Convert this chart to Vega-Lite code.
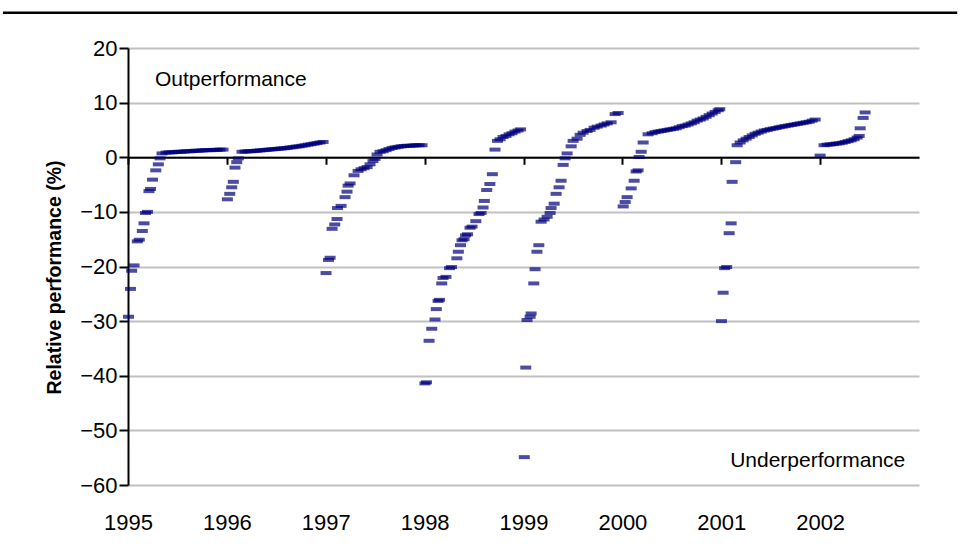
{
  "$schema": "https://vega.github.io/schema/vega-lite/v6.json",
  "width": 791,
  "height": 437,
  "autosize": {"type": "none"},
  "padding": {"left": 128, "top": 48, "right": 42, "bottom": 75},
  "background": "white",
  "config": {
    "view": {"stroke": null},
    "font": "Liberation Sans",
    "axis": {"labelColor": "black", "titleColor": "black", "labelFont": "Liberation Sans", "titleFont": "Liberation Sans"}
  },
  "datasets": {
    "pts": [
      {"t":1995.005,"v":-29.2},{"t":1995.025,"v":-24.1},{"t":1995.037,"v":-20.8},{"t":1995.061,"v":-19.8},{"t":1995.094,"v":-15.4},{"t":1995.114,"v":-15.1},{"t":1995.145,"v":-13.5},{"t":1995.162,"v":-12.1},{"t":1995.177,"v":-10.2},{"t":1995.197,"v":-10.0},{"t":1995.212,"v":-6.2},{"t":1995.228,"v":-5.8},{"t":1995.248,"v":-4.1},{"t":1995.281,"v":-2.4},{"t":1995.307,"v":-1.3},{"t":1995.324,"v":-0.2},{"t":1995.344,"v":0.7},
      {"t":1995.384,"v":0.85},{"t":1995.415,"v":0.9},{"t":1995.445,"v":0.9},{"t":1995.475,"v":0.95},{"t":1995.506,"v":1.0},{"t":1995.536,"v":1.0},{"t":1995.567,"v":1.05},{"t":1995.597,"v":1.1},{"t":1995.627,"v":1.1},{"t":1995.658,"v":1.15},{"t":1995.688,"v":1.2},{"t":1995.718,"v":1.2},{"t":1995.749,"v":1.25},{"t":1995.779,"v":1.3},{"t":1995.809,"v":1.3},{"t":1995.840,"v":1.3},{"t":1995.870,"v":1.35},{"t":1995.900,"v":1.35},{"t":1995.931,"v":1.4},{"t":1995.961,"v":1.4},
      {"t":1996.005,"v":-7.7},{"t":1996.029,"v":-6.7},{"t":1996.049,"v":-5.5},{"t":1996.065,"v":-4.5},{"t":1996.082,"v":-1.9},{"t":1996.100,"v":-0.9},{"t":1996.116,"v":-0.2},{"t":1996.153,"v":1.0},{"t":1996.184,"v":1.05},{"t":1996.214,"v":1.1},{"t":1996.244,"v":1.1},{"t":1996.275,"v":1.15},{"t":1996.305,"v":1.2},{"t":1996.335,"v":1.25},{"t":1996.366,"v":1.3},{"t":1996.396,"v":1.35},{"t":1996.426,"v":1.4},{"t":1996.457,"v":1.45},{"t":1996.487,"v":1.5},{"t":1996.517,"v":1.55},{"t":1996.548,"v":1.6},{"t":1996.578,"v":1.65},{"t":1996.609,"v":1.7},{"t":1996.639,"v":1.8},{"t":1996.669,"v":1.85},{"t":1996.700,"v":1.95},{"t":1996.730,"v":2.0},{"t":1996.760,"v":2.1},{"t":1996.791,"v":2.2},{"t":1996.821,"v":2.3},{"t":1996.851,"v":2.4},{"t":1996.882,"v":2.5},{"t":1996.912,"v":2.6},{"t":1996.942,"v":2.7},{"t":1996.973,"v":2.8},
      {"t":1997.003,"v":-21.2},{"t":1997.028,"v":-18.8},{"t":1997.044,"v":-18.4},{"t":1997.064,"v":-13.1},{"t":1997.091,"v":-12.3},{"t":1997.114,"v":-11.3},{"t":1997.119,"v":-9.3},{"t":1997.155,"v":-8.9},{"t":1997.195,"v":-7.3},{"t":1997.215,"v":-6.3},{"t":1997.226,"v":-5.2},{"t":1997.246,"v":-4.8},{"t":1997.286,"v":-3.3},{"t":1997.327,"v":-2.5},{"t":1997.357,"v":-2.2},{"t":1997.387,"v":-2.0},{"t":1997.418,"v":-1.8},{"t":1997.448,"v":-1.3},{"t":1997.478,"v":-0.7},{"t":1997.499,"v":-0.3},{"t":1997.519,"v":0.5},{"t":1997.549,"v":1.0},{"t":1997.580,"v":1.1},{"t":1997.610,"v":1.3},{"t":1997.640,"v":1.5},{"t":1997.671,"v":1.7},{"t":1997.701,"v":1.8},{"t":1997.731,"v":1.9},{"t":1997.762,"v":2.0},{"t":1997.792,"v":2.05},{"t":1997.822,"v":2.1},{"t":1997.853,"v":2.1},{"t":1997.883,"v":2.15},{"t":1997.913,"v":2.2},{"t":1997.944,"v":2.2},{"t":1997.974,"v":2.2},
      {"t":1998.003,"v":-41.4},{"t":1998.019,"v":-41.2},{"t":1998.045,"v":-33.6},{"t":1998.072,"v":-31.4},{"t":1998.105,"v":-29.7},{"t":1998.118,"v":-27.8},{"t":1998.136,"v":-26.3},{"t":1998.151,"v":-26.1},{"t":1998.173,"v":-23.1},{"t":1998.186,"v":-22.1},{"t":1998.216,"v":-21.9},{"t":1998.252,"v":-20.3},{"t":1998.272,"v":-20.1},{"t":1998.326,"v":-18.5},{"t":1998.341,"v":-17.3},{"t":1998.363,"v":-16.1},{"t":1998.378,"v":-15.2},{"t":1998.399,"v":-15.0},{"t":1998.414,"v":-14.3},{"t":1998.434,"v":-14.1},{"t":1998.459,"v":-12.9},{"t":1998.480,"v":-12.7},{"t":1998.518,"v":-11.7},{"t":1998.550,"v":-10.4},{"t":1998.571,"v":-10.2},{"t":1998.591,"v":-9.2},{"t":1998.604,"v":-8.0},{"t":1998.628,"v":-6.0},{"t":1998.660,"v":-4.9},{"t":1998.685,"v":-3.1},{"t":1998.712,"v":1.4},{"t":1998.737,"v":3.0},{"t":1998.763,"v":3.3},{"t":1998.793,"v":3.7},{"t":1998.823,"v":3.9},{"t":1998.854,"v":4.2},{"t":1998.884,"v":4.4},{"t":1998.914,"v":4.7},{"t":1998.945,"v":4.9},{"t":1998.970,"v":5.1},
      {"t":1999.008,"v":-54.9},{"t":1999.023,"v":-38.5},{"t":1999.036,"v":-29.8},{"t":1999.067,"v":-29.2},{"t":1999.077,"v":-28.6},{"t":1999.104,"v":-23.1},{"t":1999.117,"v":-20.5},{"t":1999.136,"v":-17.3},{"t":1999.155,"v":-16.1},{"t":1999.178,"v":-11.8},{"t":1999.208,"v":-11.4},{"t":1999.239,"v":-10.9},{"t":1999.269,"v":-10.2},{"t":1999.279,"v":-9.3},{"t":1999.310,"v":-8.5},{"t":1999.330,"v":-6.7},{"t":1999.360,"v":-5.5},{"t":1999.380,"v":-4.3},{"t":1999.401,"v":-1.4},{"t":1999.421,"v":-0.2},{"t":1999.441,"v":0.7},{"t":1999.482,"v":2.0},{"t":1999.502,"v":3.0},{"t":1999.542,"v":3.4},{"t":1999.573,"v":4.1},{"t":1999.603,"v":4.5},{"t":1999.643,"v":4.8},{"t":1999.674,"v":5.0},{"t":1999.714,"v":5.4},{"t":1999.745,"v":5.6},{"t":1999.785,"v":5.8},{"t":1999.815,"v":6.0},{"t":1999.846,"v":6.2},{"t":1999.886,"v":6.4},{"t":1999.927,"v":7.9},{"t":1999.957,"v":8.1},
      {"t":2000.008,"v":-9.0},{"t":2000.028,"v":-8.2},{"t":2000.048,"v":-7.3},{"t":2000.089,"v":-5.7},{"t":2000.119,"v":-4.3},{"t":2000.139,"v":-2.6},{"t":2000.159,"v":-2.4},{"t":2000.169,"v":0.05},{"t":2000.190,"v":1.0},{"t":2000.210,"v":2.7},{"t":2000.260,"v":4.2},{"t":2000.301,"v":4.4},{"t":2000.331,"v":4.6},{"t":2000.362,"v":4.7},{"t":2000.392,"v":4.8},{"t":2000.422,"v":4.9},{"t":2000.453,"v":5.0},{"t":2000.483,"v":5.1},{"t":2000.514,"v":5.2},{"t":2000.544,"v":5.3},{"t":2000.574,"v":5.5},{"t":2000.605,"v":5.7},{"t":2000.635,"v":5.8},{"t":2000.665,"v":6.0},{"t":2000.696,"v":6.2},{"t":2000.726,"v":6.4},{"t":2000.756,"v":6.7},{"t":2000.787,"v":6.9},{"t":2000.817,"v":7.1},{"t":2000.847,"v":7.4},{"t":2000.878,"v":7.7},{"t":2000.908,"v":8.0},{"t":2000.938,"v":8.3},{"t":2000.969,"v":8.6},{"t":2000.985,"v":8.8},
      {"t":2001.002,"v":-30.0},{"t":2001.019,"v":-24.8},{"t":2001.034,"v":-20.3},{"t":2001.055,"v":-20.1},{"t":2001.080,"v":-13.9},{"t":2001.100,"v":-12.1},{"t":2001.110,"v":-4.5},{"t":2001.146,"v":-0.9},{"t":2001.161,"v":2.2},{"t":2001.191,"v":2.7},{"t":2001.222,"v":3.1},{"t":2001.252,"v":3.4},{"t":2001.282,"v":3.7},{"t":2001.313,"v":4.0},{"t":2001.343,"v":4.3},{"t":2001.373,"v":4.5},{"t":2001.404,"v":4.7},{"t":2001.434,"v":4.9},{"t":2001.464,"v":5.0},{"t":2001.495,"v":5.15},{"t":2001.525,"v":5.25},{"t":2001.555,"v":5.35},{"t":2001.586,"v":5.5},{"t":2001.616,"v":5.6},{"t":2001.646,"v":5.7},{"t":2001.677,"v":5.8},{"t":2001.707,"v":5.9},{"t":2001.737,"v":6.0},{"t":2001.768,"v":6.1},{"t":2001.798,"v":6.2},{"t":2001.828,"v":6.3},{"t":2001.859,"v":6.4},{"t":2001.889,"v":6.5},{"t":2001.919,"v":6.7},{"t":2001.950,"v":6.9},
      {"t":2002.000,"v":0.3},{"t":2002.040,"v":2.2},{"t":2002.071,"v":2.3},{"t":2002.101,"v":2.35},{"t":2002.132,"v":2.4},{"t":2002.162,"v":2.5},{"t":2002.192,"v":2.55},{"t":2002.223,"v":2.65},{"t":2002.253,"v":2.8},{"t":2002.283,"v":2.95},{"t":2002.314,"v":3.1},{"t":2002.344,"v":3.3},{"t":2002.374,"v":3.6},{"t":2002.395,"v":3.9},{"t":2002.405,"v":5.3},{"t":2002.435,"v":7.2},{"t":2002.455,"v":8.2}
    ],
    "frame": [{"t": 1993.7355, "t2": 2003.3865, "v": 26.46}],
    "notes": [
      {"t": 1995.273, "v": 14.23, "label": "Outperformance"},
      {"t": 2002.861, "v": -55.61, "label": "Underperformance"}
    ]
  },
  "resolve": {"axis": {"x": "independent"}},
  "layer": [
    {
      "data": {"name": "pts"},
      "mark": {"type": "tick", "orient": "horizontal", "size": 11, "thickness": 4, "color": "#00007c"},
      "encoding": {
        "x": {
          "field": "t", "type": "quantitative",
          "scale": {"domain": [1995, 2003], "nice": false, "zero": false},
          "axis": {"orient": "bottom", "values": [1995, 1996, 1997, 1998, 1999, 2000, 2001, 2002], "format": "d", "domain": false, "ticks": false, "grid": false, "labelFontSize": 22, "labelPadding": 27, "labelFlush": false, "labelOverlap": false, "title": null}
        },
        "y": {
          "field": "v", "type": "quantitative",
          "scale": {"domain": [-60, 20], "nice": false, "zero": false},
          "axis": {"values": [-60, -50, -40, -30, -20, -10, 0, 10, 20], "format": "d", "grid": true, "gridColor": "#c0c0c0", "gridWidth": 2, "domainColor": "black", "domainWidth": 2, "tickColor": "black", "tickWidth": 2, "tickSize": 9, "labelPadding": 2, "labelFontSize": 22, "labelFlush": false, "labelOverlap": false, "title": "Relative performance (%)", "titleFontSize": 19.5, "titleFontWeight": "bold", "titlePadding": 15, "titleY": 229}
        }
      }
    },
    {
      "data": {"name": "frame"},
      "mark": {"type": "rule", "color": "black", "strokeWidth": 2.5, "clip": false},
      "encoding": {
        "x": {
          "field": "t", "type": "quantitative",
          "axis": {"orient": "bottom", "offset": -327.75, "values": [1995, 1996, 1997, 1998, 1999, 2000, 2001, 2002], "labels": false, "grid": false, "domainColor": "black", "domainWidth": 2, "tickColor": "black", "tickWidth": 2, "tickSize": 7, "title": null}
        },
        "x2": {"field": "t2"},
        "y": {"field": "v", "type": "quantitative"}
      }
    },
    {
      "data": {"name": "notes"},
      "transform": [{"filter": "datum.label == 'Outperformance'"}],
      "mark": {"type": "text", "align": "left", "baseline": "middle", "fontSize": 21, "font": "Liberation Sans", "color": "black"},
      "encoding": {
        "x": {"field": "t", "type": "quantitative", "axis": null},
        "y": {"field": "v", "type": "quantitative"},
        "text": {"field": "label"}
      }
    },
    {
      "data": {"name": "notes"},
      "transform": [{"filter": "datum.label == 'Underperformance'"}],
      "mark": {"type": "text", "align": "right", "baseline": "middle", "fontSize": 21, "font": "Liberation Sans", "color": "black"},
      "encoding": {
        "x": {"field": "t", "type": "quantitative", "axis": null},
        "y": {"field": "v", "type": "quantitative"},
        "text": {"field": "label"}
      }
    }
  ]
}
